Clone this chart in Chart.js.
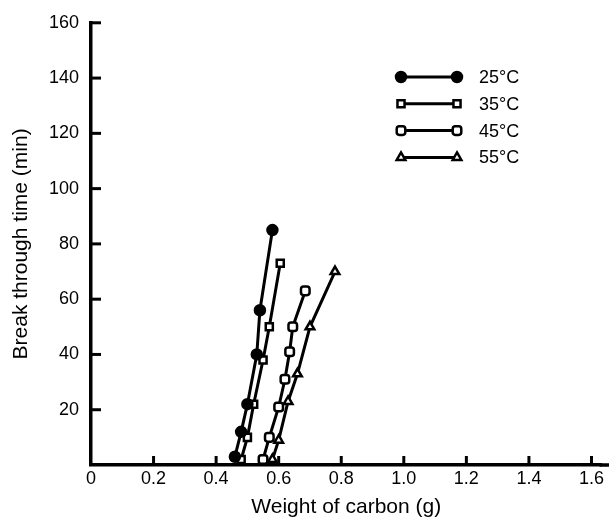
<!DOCTYPE html>
<html>
<head>
<meta charset="utf-8">
<script src="https://cdn.jsdelivr.net/npm/chart.js@4"></script>
<style>
  html, body { margin: 0; padding: 0; background: #fff; }
  #wrap { width: 609px; height: 520px; }
</style>
</head>
<body>
<div id="wrap"><canvas id="chart" width="609" height="520"></canvas></div>
<script>
// values (weight in g, time in min)
const x25 = [0.46, 0.48, 0.50, 0.53, 0.54, 0.58];
const y25 = [3, 12, 22, 40, 56, 85];
const x35 = [0.48, 0.50, 0.52, 0.55, 0.57, 0.605];
const y35 = [2, 10, 22, 38, 50, 73];
const x45 = [0.55, 0.57, 0.60, 0.62, 0.635, 0.645, 0.685];
const y45 = [2, 10, 21, 31, 41, 50, 63];
const x55 = [0.58, 0.60, 0.63, 0.66, 0.70, 0.78];
const y55 = [2, 9, 23, 33, 50, 70];
const seriesNames = ['25°C', '35°C', '45°C', '55°C'];
const xTicks = [0, 0.2, 0.4, 0.6, 0.8, 1.0, 1.2, 1.4, 1.6];
const yTicks = [20, 40, 60, 80, 100, 120, 140, 160];

const FONT = '"Liberation Sans", Arial, sans-serif';

function pts(xs, ys) {
  return xs.map((x, i) => ({ x: x, y: ys[i] }));
}

const styles = [
  { pointStyle: 'circle', pointBackgroundColor: '#000' },
  { pointStyle: 'rect', pointBackgroundColor: '#fff' },
  { pointStyle: 'rectRounded', pointBackgroundColor: '#fff' },
  { pointStyle: 'triangle', pointBackgroundColor: '#fff' }
];

const datasets = [[x25, y25], [x35, y35], [x45, y45], [x55, y55]].map((d, i) => ({
  label: seriesNames[i],
  data: pts(d[0], d[1]),
  borderColor: '#000',
  borderWidth: 3,
  pointBorderColor: '#000',
  pointBorderWidth: 2.5,
  pointRadius: 5,
  pointStyle: styles[i].pointStyle,
  pointBackgroundColor: styles[i].pointBackgroundColor,
  tension: 0
}));

// inward tick marks, axis run-out to the edge, and a legend with a marker at both ends of a sample line
const decor = {
  id: 'decor',
  afterDatasetsDraw(chart) {
    const ctx = chart.ctx;
    const xs = chart.scales.x, ys = chart.scales.y;
    const area = chart.chartArea;
    ctx.save();
    ctx.strokeStyle = '#000';
    ctx.lineWidth = 3.5;
    ctx.beginPath();
    ctx.moveTo(area.right - 2, area.bottom);
    ctx.lineTo(chart.width, area.bottom);
    ctx.stroke();

    ctx.lineWidth = 3;
    xTicks.forEach(v => {
      if (v === 0) return;
      const px = xs.getPixelForValue(v);
      ctx.beginPath();
      ctx.moveTo(px, area.bottom);
      ctx.lineTo(px, area.bottom - 9);
      ctx.stroke();
    });
    yTicks.forEach(v => {
      const py = ys.getPixelForValue(v);
      ctx.beginPath();
      ctx.moveTo(area.left, py);
      ctx.lineTo(area.left + 10, py);
      ctx.stroke();
    });

    // legend
    const lx0 = 401, lx1 = 457, ly0 = 77, gap = 26.8;
    chart.data.datasets.forEach((ds, i) => {
      const ly = ly0 + i * gap;
      ctx.strokeStyle = '#000';
      ctx.lineWidth = 3;
      ctx.beginPath();
      ctx.moveTo(lx0, ly);
      ctx.lineTo(lx1, ly);
      ctx.stroke();
      [lx0, lx1].forEach(px => {
        ctx.fillStyle = ds.pointBackgroundColor;
        ctx.strokeStyle = '#000';
        ctx.lineWidth = 2.5;
        Chart.helpers.drawPoint(ctx, { pointStyle: ds.pointStyle, radius: 5, rotation: 0, borderWidth: 2.5 }, px, ly);
      });
      ctx.fillStyle = '#000';
      ctx.font = '18px ' + FONT;
      ctx.textBaseline = 'middle';
      ctx.textAlign = 'left';
      ctx.fillText(ds.label, 479, ly + 1);
    });
    ctx.restore();
  }
};

new Chart(document.getElementById('chart'), {
  type: 'line',
  data: { datasets: datasets },
  plugins: [decor],
  options: {
    responsive: false,
    animation: false,
    layout: { padding: { top: 21, right: 0, left: 0, bottom: 0 } },
    plugins: { legend: { display: false }, tooltip: { enabled: false } },
    scales: {
      x: {
        type: 'linear',
        min: 0,
        max: 1.632,
        afterBuildTicks(scale) { scale.ticks = xTicks.map(v => ({ value: v })); },
        afterFit(scale) { scale.height = 55; },
        grid: { display: false, drawTicks: false },
        border: { display: true, color: '#000', width: 3.5 },
        ticks: {
          color: '#000',
          padding: 3,
          maxRotation: 0,
          font: { family: FONT, size: 18 },
          callback: v => v === 0 ? '0' : v.toFixed(1)
        },
        title: {
          display: true,
          text: 'Weight of carbon (g)',
          color: '#000',
          font: { family: FONT, size: 21 },
          padding: { top: 4, bottom: 0 }
        }
      },
      y: {
        min: 0,
        max: 160,
        afterBuildTicks(scale) { scale.ticks = yTicks.map(v => ({ value: v })); },
        afterFit(scale) { scale.width = 91; },
        grid: { display: false, drawTicks: false },
        border: { display: true, color: '#000', width: 3.5 },
        ticks: {
          color: '#000',
          padding: 12,
          font: { family: FONT, size: 18 }
        },
        title: {
          display: true,
          text: 'Break through time (min)',
          color: '#000',
          font: { family: FONT, size: 21 },
          padding: { top: 9, bottom: 0 }
        }
      }
    }
  }
});
</script>
</body>
</html>
